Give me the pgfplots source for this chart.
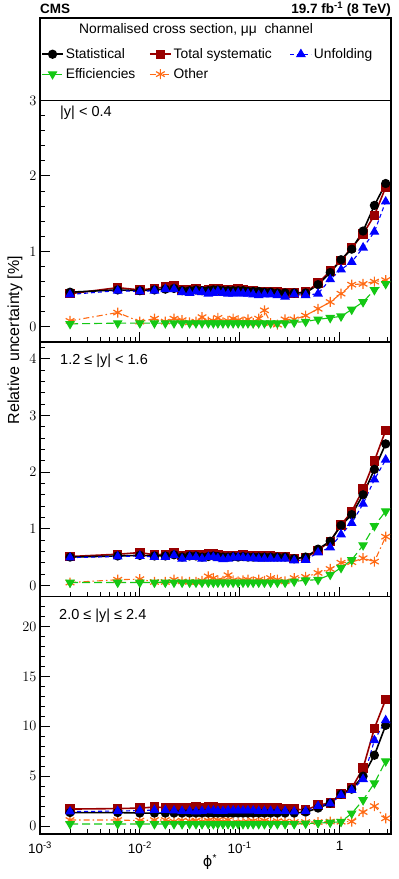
\documentclass[border=0pt]{standalone}
\usepackage{pgfplots}
\usepackage{pgfplotstable}
\pgfplotsset{compat=1.18}
\usepackage{fontspec}
\setmainfont{Liberation Sans}
\newfontfamily\dejavu{DejaVu Sans}
\definecolor{myred}{RGB}{153,0,0}
\definecolor{mygreen}{RGB}{20,200,20}
\definecolor{myorange}{RGB}{255,106,20}

\pgfplotstableread{
x      stat  sys   unf   eff   oth
0.002  0.46  0.44  0.43  0.04  0.08
0.006  0.49  0.52  0.48  0.05  0.19
0.010  0.48  0.49  0.47  0.05  0.07
0.014  0.49  0.51  0.48  0.05  0.11
0.018  0.50  0.53  0.50  0.05  0.07
0.022  0.51  0.54  0.50  0.05  0.11
0.0265 0.48  0.49  0.46  0.05  0.09
0.0315 0.48  0.49  0.45  0.05  0.06
0.0365 0.49  0.50  0.47  0.05  0.07
0.042  0.48  0.48  0.46  0.05  0.13
0.0485 0.48  0.49  0.44  0.05  0.07
0.0545 0.49  0.50  0.45  0.05  0.08
0.0605 0.49  0.50  0.47  0.05  0.12
0.068  0.48  0.49  0.45  0.05  0.06
0.0765 0.48  0.49  0.44  0.05  0.08
0.086  0.48  0.49  0.44  0.05  0.11
0.0965 0.48  0.50  0.45  0.05  0.09
0.108  0.48  0.49  0.44  0.05  0.07
0.121  0.47  0.48  0.44  0.05  0.10
0.1365 0.47  0.48  0.43  0.05  0.05
0.155  0.47  0.47  0.42  0.05  0.11
0.177  0.46  0.47  0.43  0.05  0.22
0.204  0.46  0.47  0.43  0.05  0.05
0.2385 0.45  0.46  0.42  0.05  0.03
0.285  0.45  0.45  0.40  0.05  0.10
0.3515 0.45  0.45  0.43  0.06  0.10
0.4575 0.45  0.46  0.42  0.07  0.15
0.6095 0.56  0.58  0.44  0.10  0.24
0.8065 0.72  0.74  0.63  0.12  0.33
1.0355 0.89  0.88  0.76  0.14  0.44
1.3245 1.03  1.05  0.86  0.23  0.56
1.7215 1.27  1.23  1.05  0.33  0.57
2.2345 1.61  1.48  1.26  0.49  0.60
2.8995 1.90  1.85  1.66  0.57  0.62
}\tabA

\pgfplotstableread{
x      stat  sys   unf   eff   oth
0.002  0.50 0.51 0.49 0.05 0.05
0.006  0.52 0.55 0.51 0.05 0.10
0.010  0.53 0.58 0.52 0.05 0.11
0.014  0.52 0.54 0.50 0.05 0.06
0.018  0.52 0.55 0.50 0.05 0.06
0.022  0.54 0.57 0.53 0.05 0.10
0.0265 0.50 0.53 0.47 0.05 0.07
0.0315 0.52 0.55 0.50 0.05 0.06
0.0365 0.52 0.55 0.50 0.05 0.06
0.042  0.50 0.54 0.47 0.05 0.08
0.0485 0.51 0.56 0.50 0.05 0.16
0.0545 0.52 0.56 0.50 0.05 0.13
0.0605 0.51 0.54 0.48 0.05 0.09
0.068  0.50 0.52 0.46 0.05 0.08
0.0765 0.50 0.52 0.47 0.05 0.18
0.086  0.51 0.53 0.49 0.05 0.09
0.0965 0.50 0.53 0.49 0.05 0.07
0.108  0.51 0.54 0.49 0.05 0.09
0.121  0.50 0.52 0.48 0.05 0.10
0.1365 0.50 0.52 0.48 0.05 0.07
0.155  0.50 0.52 0.47 0.05 0.10
0.177  0.50 0.52 0.47 0.05 0.08
0.204  0.50 0.52 0.47 0.05 0.13
0.2385 0.50 0.51 0.47 0.05 0.10
0.285  0.50 0.51 0.47 0.05 0.07
0.3515 0.47 0.48 0.44 0.07 0.13
0.4575 0.50 0.49 0.45 0.09 0.15
0.6095 0.64 0.62 0.58 0.10 0.22
0.8065 0.78 0.78 0.67 0.19 0.29
1.0355 1.06 1.07 0.90 0.31 0.40
1.3245 1.25 1.30 1.10 0.45 0.41
1.7215 1.60 1.70 1.44 0.71 0.48
2.2345 2.05 2.20 1.87 1.05 0.42
2.8995 2.50 2.74 2.22 1.31 0.86
}\tabB

\pgfplotstableread{
x      stat  sys   unf   eff   oth
0.002  1.35 1.70 1.45 0.20 0.60
0.006  1.35 1.75 1.50 0.20 0.60
0.010  1.30 1.80 1.55 0.20 0.55
0.014  1.30 1.90 1.60 0.20 0.60
0.018  1.30 1.85 1.60 0.20 0.60
0.022  1.30 1.85 1.55 0.20 0.45
0.0265 1.30 1.80 1.50 0.20 0.55
0.0315 1.30 1.85 1.50 0.20 0.50
0.0365 1.30 1.95 1.45 0.20 0.55
0.042  1.30 1.80 1.50 0.20 0.45
0.0485 1.30 1.90 1.55 0.20 0.55
0.0545 1.30 1.90 1.55 0.20 0.50
0.0605 1.30 1.85 1.50 0.20 0.60
0.068  1.30 1.85 1.50 0.20 0.45
0.0765 1.30 1.85 1.55 0.20 0.60
0.086  1.30 1.80 1.55 0.20 0.35
0.0965 1.30 1.85 1.55 0.20 0.30
0.108  1.30 1.85 1.55 0.20 0.35
0.121  1.30 1.85 1.55 0.20 0.40
0.1365 1.30 1.85 1.55 0.20 0.50
0.155  1.30 1.80 1.50 0.20 0.45
0.177  1.30 1.80 1.50 0.20 0.55
0.204  1.30 1.80 1.50 0.20 0.40
0.2385 1.30 1.80 1.50 0.20 0.50
0.285  1.30 1.75 1.50 0.20 0.45
0.3515 1.30 1.70 1.45 0.20 0.40
0.4575 1.40 1.60 1.50 0.25 0.40
0.6095 1.80 2.10 2.00 0.30 0.40
0.8065 2.30 2.30 2.25 0.35 0.45
1.0355 3.20 3.20 3.10 0.43 0.43
1.3245 3.70 3.80 3.60 1.27 0.45
1.7215 5.00 5.80 4.70 2.60 1.40
2.2345 7.10 9.80 8.60 4.30 2.00
2.8995 10.10 12.70 10.60 6.50 0.77
}\tabC

\tikzset{
  statS/.style={black, solid, line width=1.6pt, mark=*, mark size=3.8pt, mark options={solid}},
  sysS/.style={myred, solid, line width=1.6pt, mark=square*, mark size=3.9pt, mark options={solid}},
  unfS/.style={blue, line width=1.1pt, dash pattern=on 4pt off 3pt, mark=triangle*, mark size=4.6pt, mark options={solid}},
  effS/.style={mygreen, line width=1.1pt, dash pattern=on 8pt off 4pt, mark=triangle*, mark size=4.6pt, mark options={solid, rotate=180}},
  othS/.style={myorange, line width=1.1pt, dash pattern=on 6pt off 3pt on 1.5pt off 3pt, mark=asterisk, mark size=5pt, mark options={solid, line width=1.2pt}},
  tk/.style={black, solid, line width=1pt},
}
\pgfplotsset{
  every axis/.append style={
    axis line style={line width=1.5pt},
    tick pos=left, tick align=inside,
    major tick length=10pt, minor tick length=5pt,
    every major tick/.append style={draw=black, line width=1pt},
    every minor tick/.append style={draw=black, line width=1pt},
    yticklabel style={font=\fontsize{13.5}{15}\selectfont},
    xticklabel style={font=\fontsize{13.5}{15}\selectfont, yshift=-4pt},
  },
}
% axis furniture: tick marks along the left and bottom edges
\newcommand{\ytickmarks}[2]{%
  \pgfplotsinvokeforeach{#1}{\draw[tk] ({rel axis cs:0,0} |- {axis cs:1,##1}) -- ++(10pt,0pt);}%
  \pgfplotsinvokeforeach{#2}{\draw[tk] ({rel axis cs:0,0} |- {axis cs:1,##1}) -- ++(5pt,0pt);}}
\newcommand{\xtickmarks}[1]{%
  \pgfplotsinvokeforeach{0.001,0.01,0.1,1}{\draw[tk] ({axis cs:##1,#1} |- {rel axis cs:0,0}) -- ++(0pt,8pt);}%
  \pgfplotsinvokeforeach{0.002,0.003,0.004,0.005,0.006,0.007,0.008,0.009,0.02,0.03,0.04,0.05,0.06,0.07,0.08,0.09,0.2,0.3,0.4,0.5,0.6,0.7,0.8,0.9,2,3}{\draw[tk] ({axis cs:##1,#1} |- {rel axis cs:0,0}) -- ++(0pt,4pt);}}

\begin{document}
\begin{tikzpicture}
\useasboundingbox (0pt,0pt) rectangle (399pt,879pt);

\begin{axis}[scale only axis, width=351pt, height=241.5pt,
  at={(40pt,537pt)}, anchor=south west,
  xmode=log, xmin=0.001, xmax=3.277,
  xtick={0.001,0.01,0.1,1}, xticklabels={},
  minor xtick={0.002,0.003,0.004,0.005,0.006,0.007,0.008,0.009,0.02,0.03,0.04,0.05,0.06,0.07,0.08,0.09,0.2,0.3,0.4,0.5,0.6,0.7,0.8,0.9,2,3},
  ymin=-0.2, ymax=3, ytick={0,1,2,3},
  minor ytick={0.2,0.4,0.6,0.8,1.2,1.4,1.6,1.8,2.2,2.4,2.6,2.8},
  legend columns=3,
  legend cell align=left,
  legend style={draw=none, fill=none, inner sep=0pt, at={(0.003,1.2245)}, anchor=north west,
    font=\fontsize{13.8}{16}\selectfont, row sep=4.4pt,
    nodes={inner sep=2pt},
    /tikz/column 2/.style={column sep=11.7pt},
    /tikz/column 4/.style={column sep=16pt}},
  legend image code/.code={\draw[mark repeat=2,mark phase=2,#1] plot coordinates {(0pt,0pt) (10.5pt,0pt) (21pt,0pt)};},
]
\addlegendimage{statS}\addlegendentry{Statistical}
\addlegendimage{sysS}\addlegendentry{Total systematic}
\addlegendimage{unfS}\addlegendentry{Unfolding}
\addlegendimage{effS}\addlegendentry{Efficiencies}
\addlegendimage{othS}\addlegendentry{Other}
\addplot[othS, forget plot] table[x=x,y=oth]{\tabA};
\addplot[effS, forget plot] table[x=x,y=eff]{\tabA};
\addplot[sysS, forget plot] table[x=x,y=sys]{\tabA};
\addplot[statS, forget plot] table[x=x,y=stat]{\tabA};
\addplot[unfS, forget plot] table[x=x,y=unf]{\tabA};
\ytickmarks{0,1,2,3}{0.2,0.4,0.6,0.8,1.2,1.4,1.6,1.8,2.2,2.4,2.6,2.8}
\xtickmarks{1}
\end{axis}

\begin{axis}[scale only axis, width=351pt, height=254.7pt,
  at={(40pt,282.3pt)}, anchor=south west,
  xmode=log, xmin=0.001, xmax=3.277,
  xtick={0.001,0.01,0.1,1}, xticklabels={},
  minor xtick={0.002,0.003,0.004,0.005,0.006,0.007,0.008,0.009,0.02,0.03,0.04,0.05,0.06,0.07,0.08,0.09,0.2,0.3,0.4,0.5,0.6,0.7,0.8,0.9,2,3},
  ymin=-0.2, ymax=4.3, ytick={0,1,2,3,4},
  minor ytick={0.2,0.4,0.6,0.8,1.2,1.4,1.6,1.8,2.2,2.4,2.6,2.8,3.2,3.4,3.6,3.8,4.2}]
\addplot[othS] table[x=x,y=oth]{\tabB};
\addplot[effS] table[x=x,y=eff]{\tabB};
\addplot[sysS] table[x=x,y=sys]{\tabB};
\addplot[statS] table[x=x,y=stat]{\tabB};
\addplot[unfS] table[x=x,y=unf]{\tabB};
\ytickmarks{0,1,2,3,4}{0.2,0.4,0.6,0.8,1.2,1.4,1.6,1.8,2.2,2.4,2.6,2.8,3.2,3.4,3.6,3.8,4.2}
\xtickmarks{1}
\end{axis}

\begin{axis}[scale only axis, width=351pt, height=237.3pt,
  at={(40pt,45pt)}, anchor=south west,
  xmode=log, xmin=0.001, xmax=3.277,
  xtick={0.001,0.01,0.1,1},
  xticklabels={10\textsuperscript{-3},10\textsuperscript{-2},10\textsuperscript{-1},1},
  minor xtick={0.002,0.003,0.004,0.005,0.006,0.007,0.008,0.009,0.02,0.03,0.04,0.05,0.06,0.07,0.08,0.09,0.2,0.3,0.4,0.5,0.6,0.7,0.8,0.9,2,3},
  ymin=-0.8, ymax=23, ytick={0,5,10,15,20},
  minor ytick={1,2,3,4,6,7,8,9,11,12,13,14,16,17,18,19,21,22}]
\addplot[othS] table[x=x,y=oth]{\tabC};
\addplot[effS] table[x=x,y=eff]{\tabC};
\addplot[sysS] table[x=x,y=sys]{\tabC};
\addplot[statS] table[x=x,y=stat]{\tabC};
\addplot[unfS] table[x=x,y=unf]{\tabC};
\ytickmarks{0,5,10,15,20}{1,2,3,4,6,7,8,9,11,12,13,14,16,17,18,19,21,22}
\xtickmarks{1}
\end{axis}

\draw[line width=1.3pt] (40pt,778.3pt) rectangle (391pt,861pt);
\node[anchor=west, font=\fontsize{13.8}{16}\selectfont, inner sep=0pt] at (79pt,849pt) {Normalised cross section, μμ\ \ channel};
\node[anchor=west, font=\bfseries\fontsize{13.5}{15}\selectfont, inner sep=0pt] at (40pt,870pt) {CMS};
\node[anchor=east, font=\bfseries\fontsize{13.5}{15}\selectfont, inner sep=0pt] at (391pt,870pt) {19.7 fb\textsuperscript{-1} (8 TeV)};
\node[anchor=west, font=\fontsize{14.5}{16}\selectfont, inner sep=0pt] at (60pt,766pt) {|y| < 0.4};
\node[anchor=west, font=\fontsize{14.5}{16}\selectfont, inner sep=0pt] at (60pt,518pt) {1.2 ≤ |y| < 1.6};
\node[anchor=west, font=\fontsize{14.5}{16}\selectfont, inner sep=0pt] at (59pt,263pt) {2.0 ≤ |y| ≤ 2.4};
\node[rotate=90, font=\fontsize{16}{18}\selectfont, inner sep=0pt] at (15pt,539pt) {Relative uncertainty [\%]};
\node[font=\fontsize{14.5}{16}\selectfont, inner sep=0pt] at (210pt,17pt) {{\dejavu ϕ}\textsuperscript{*}};
\end{tikzpicture}
\end{document}
